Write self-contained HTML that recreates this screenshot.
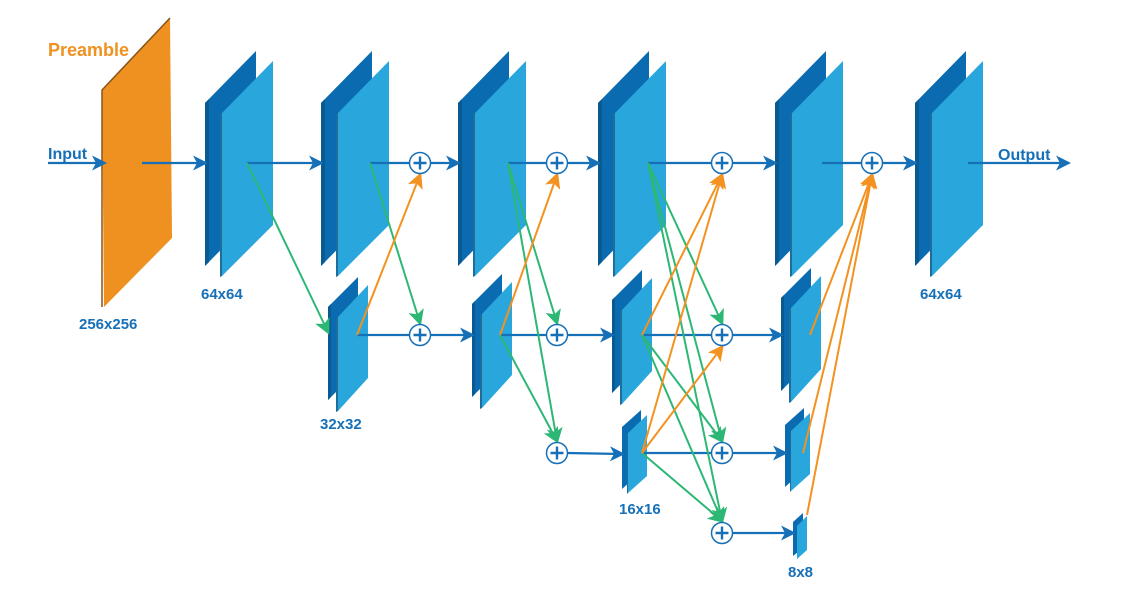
<!DOCTYPE html>
<html><head><meta charset="utf-8"><style>
html,body{margin:0;padding:0;background:#fff;}
svg{display:block;}
text{font-family:"Liberation Sans",sans-serif;font-weight:bold;}
</style></head><body>
<svg width="1121" height="596" viewBox="0 0 1121 596" xmlns="http://www.w3.org/2000/svg">
<defs>
<marker id="mb" markerWidth="15" markerHeight="15" refX="12" refY="7.5" orient="auto" markerUnits="userSpaceOnUse"><path d="M0,0 L15,7.5 L0,15 L4,7.5 Z" fill="#1670b8"/></marker>
<marker id="mg" markerWidth="16" markerHeight="16" refX="13" refY="8" orient="auto" markerUnits="userSpaceOnUse"><path d="M0,0 L16,8 L0,16 L4,8 Z" fill="#2cb874"/></marker>
<marker id="mo" markerWidth="16" markerHeight="16" refX="13" refY="8" orient="auto" markerUnits="userSpaceOnUse"><path d="M0,0 L16,8 L0,16 L4,8 Z" fill="#f39220"/></marker>
<g id="L">
<polygon points="0,52 51,0 51,163 0,215" fill="#0a6bb0"/>
<polygon points="0,52 4,48 4,211 0,215" fill="#0a5a92"/>
<polygon points="17,62 68,10 68,174 17,225" fill="#29a6db"/>
<polygon points="15,63 17,62 17,225 15,226" fill="#1e6d9a"/>
</g>
<g id="M">
<polygon points="0,30 30,0 30,93 0,123" fill="#0a6bb0"/>
<polygon points="0,30 3,27 3,120 0,123" fill="#0a5a92"/>
<polygon points="10,40 40,8 40,101 10,134" fill="#29a6db"/>
<polygon points="8,41 10,40 10,134 8,135" fill="#1e6d9a"/>
</g>
<g id="S">
<polygon points="0,17 19,0 19,62 0,79" fill="#0a6bb0"/>
<polygon points="6,23 25,5 25,66 6,83" fill="#29a6db"/>
<polygon points="5,24 6,23 6,83 5,84" fill="#1e6d9a"/>
</g>
<g id="T">
<polygon points="0,14 10,5 10,40 0,48" fill="#0a6bb0"/>
<polygon points="4,18 14,8 14,42 4,51" fill="#29a6db"/>
</g>
<g id="P">
<circle r="10.5" fill="#fff" stroke="#1670b8" stroke-width="1.5"/>
<path d="M-6.5,0 H6.5 M0,-6.5 V6.5" stroke="#1670b8" stroke-width="2.4"/>
</g>
</defs>

<polygon points="102,90 170,18 172,238 104,307" fill="#ee9120"/>
<polyline points="102,307 102,90 170,18" fill="none" stroke="#8a5418" stroke-width="1.5"/>

<use href="#L" x="205" y="51"/>
<use href="#L" x="321" y="51"/>
<use href="#L" x="458" y="51"/>
<use href="#L" x="598" y="51"/>
<use href="#L" x="775" y="51"/>
<use href="#L" x="915" y="51"/>
<use href="#M" x="328" y="277"/>
<use href="#M" x="472" y="274"/>
<use href="#M" x="612" y="270"/>
<use href="#M" x="781" y="268"/>
<use href="#S" x="622" y="410"/>
<use href="#S" x="785" y="408"/>
<use href="#T" x="793" y="508"/>

<g stroke="#1670b8" stroke-width="2.2" fill="none">
<line x1="48" y1="163" x2="104" y2="163" marker-end="url(#mb)"/>
<line x1="142" y1="163" x2="205" y2="163" marker-end="url(#mb)"/>
<line x1="247" y1="163" x2="321" y2="163" marker-end="url(#mb)"/>
<line x1="370" y1="163" x2="410" y2="163"/>
<line x1="430" y1="163" x2="458" y2="163" marker-end="url(#mb)"/>
<line x1="508" y1="163" x2="547" y2="163"/>
<line x1="567" y1="163" x2="598" y2="163" marker-end="url(#mb)"/>
<line x1="648" y1="163" x2="712" y2="163"/>
<line x1="732" y1="163" x2="775" y2="163" marker-end="url(#mb)"/>
<line x1="822" y1="163" x2="862" y2="163"/>
<line x1="882" y1="163" x2="915" y2="163" marker-end="url(#mb)"/>
<line x1="968" y1="163" x2="1068" y2="163" marker-end="url(#mb)"/>
<line x1="357" y1="335" x2="410" y2="335"/>
<line x1="430" y1="335" x2="472" y2="335" marker-end="url(#mb)"/>
<line x1="500" y1="335" x2="547" y2="335"/>
<line x1="567" y1="335" x2="612" y2="335" marker-end="url(#mb)"/>
<line x1="642" y1="335" x2="712" y2="335"/>
<line x1="732" y1="335" x2="781" y2="335" marker-end="url(#mb)"/>
<line x1="567" y1="453" x2="622" y2="454" marker-end="url(#mb)"/>
<line x1="642" y1="453" x2="712" y2="453"/>
<line x1="732" y1="453" x2="785" y2="453" marker-end="url(#mb)"/>
<line x1="732" y1="533" x2="793" y2="533" marker-end="url(#mb)"/>
</g>

<g stroke="#2cb874" stroke-width="2" fill="none">
<line x1="247" y1="163" x2="328" y2="332" marker-end="url(#mg)"/>
<line x1="370" y1="163" x2="420" y2="323" marker-end="url(#mg)"/>
<line x1="508" y1="163" x2="557" y2="323" marker-end="url(#mg)"/>
<line x1="508" y1="163" x2="557" y2="441" marker-end="url(#mg)"/>
<line x1="500" y1="335" x2="557" y2="441" marker-end="url(#mg)"/>
<line x1="648" y1="163" x2="722" y2="323" marker-end="url(#mg)"/>
<line x1="648" y1="163" x2="722" y2="441" marker-end="url(#mg)"/>
<line x1="648" y1="163" x2="722" y2="521" marker-end="url(#mg)"/>
<line x1="642" y1="335" x2="722" y2="441" marker-end="url(#mg)"/>
<line x1="642" y1="335" x2="722" y2="521" marker-end="url(#mg)"/>
<line x1="642" y1="453" x2="722" y2="521" marker-end="url(#mg)"/>
</g>

<g stroke="#f39220" stroke-width="2" fill="none">
<line x1="357" y1="335" x2="420" y2="175" marker-end="url(#mo)"/>
<line x1="500" y1="335" x2="557" y2="175" marker-end="url(#mo)"/>
<line x1="642" y1="335" x2="722" y2="175" marker-end="url(#mo)"/>
<line x1="642" y1="453" x2="722" y2="175" marker-end="url(#mo)"/>
<line x1="642" y1="453" x2="722" y2="347" marker-end="url(#mo)"/>
<line x1="810" y1="335" x2="872" y2="175" marker-end="url(#mo)"/>
<line x1="803" y1="453" x2="872" y2="175" marker-end="url(#mo)"/>
<line x1="807" y1="515" x2="872" y2="175" marker-end="url(#mo)"/>
</g>

<use href="#P" x="420" y="163"/>
<use href="#P" x="557" y="163"/>
<use href="#P" x="722" y="163"/>
<use href="#P" x="872" y="163"/>
<use href="#P" x="420" y="335"/>
<use href="#P" x="557" y="335"/>
<use href="#P" x="722" y="335"/>
<use href="#P" x="557" y="453"/>
<use href="#P" x="722" y="453"/>
<use href="#P" x="722" y="533"/>

<text x="48" y="56" font-size="18" fill="#ef9221">Preamble</text>
<g fill="#1670b8" font-size="15">
<text x="48" y="159" font-size="16">Input</text>
<text x="998" y="160" font-size="16">Output</text>
<text x="79" y="329">256x256</text>
<text x="201" y="299">64x64</text>
<text x="320" y="429">32x32</text>
<text x="619" y="514">16x16</text>
<text x="788" y="577">8x8</text>
<text x="920" y="299">64x64</text>
</g>
</svg>
</body></html>
